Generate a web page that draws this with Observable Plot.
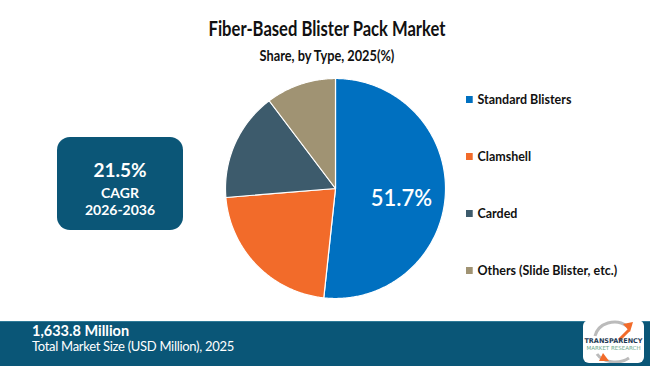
<!DOCTYPE html>
<html><head><meta charset="utf-8">
<script src="https://cdn.jsdelivr.net/npm/d3@7"></script>
<script src="https://cdn.jsdelivr.net/npm/@observablehq/plot@0.6"></script>
<style>
html,body{margin:0;padding:0;background:#fff;}
#wrap{position:relative;width:650px;height:366px;overflow:hidden;font-family:Lato,"Open Sans",sans-serif;}
#chart{position:absolute;left:0;top:0;}
.title{position:absolute;left:0;width:654px;top:15px;text-align:center;font-weight:700;font-size:21px;color:#111;transform:scaleX(0.79);}
.sub{position:absolute;left:0;width:654px;top:47px;text-align:center;font-weight:700;font-size:14.5px;color:#111;transform:scaleX(0.88);}
.legend{position:absolute;left:466px;top:0;}
.li{position:absolute;white-space:nowrap;font-weight:700;font-size:13px;color:#111;transform-origin:0 50%;transform:scaleX(0.96);}
.li span.sw{display:inline-block;width:7px;height:7px;margin-right:5px;vertical-align:1px;}
.cagr{position:absolute;left:57px;top:137px;width:126px;height:93px;background:#0b5677;border-radius:13px;color:#fff;text-align:center;font-family:Lato,sans-serif;}
.banner{position:absolute;left:0;top:321px;width:650px;height:45px;background:#0a5677;border-top:1px solid #2f7a98;}
.b1{position:absolute;left:32px;top:0px;color:#fff;font-weight:700;font-size:14.5px;font-family:Lato,sans-serif;}
.b2{position:absolute;left:32px;top:16px;color:#fff;font-size:13px;font-family:Lato,sans-serif;font-weight:400;letter-spacing:-0.3px;}
.logo{position:absolute;left:583px;top:320px;width:61px;height:43px;background:#fff;border-radius:6px;}
</style></head>
<body><div id="wrap">
<div id="chart"></div>
<div class="title">Fiber-Based Blister Pack Market</div>
<div class="sub">Share, by Type, 2025(%)</div>
<div class="legend" id="legend"></div>
<div class="cagr"><div style="position:absolute;top:21px;width:100%;font-size:19px;font-weight:700;">21.5%</div>
<div style="position:absolute;top:47px;width:100%;font-size:14px;font-weight:700;">CAGR</div>
<div style="position:absolute;top:64px;width:100%;font-size:14px;font-weight:700;">2026-2036</div></div>
<div class="banner"><div class="b1">1,633.8 Million</div><div class="b2">Total Market Size (USD Million), 2025</div></div>
<div class="logo">
<svg width="61" height="43">
<path d="M12 16 A20 18 0 0 1 44 6" fill="none" stroke="#bbb" stroke-width="3"/>
<path d="M40 4 L50 2 L47 12 Z" fill="#f26b2a"/>
<path d="M46 10 L36 20" stroke="#f26b2a" stroke-width="3"/>
<text x="30.5" y="23" text-anchor="middle" font-size="6.5" font-weight="700" fill="#1f3b55" font-family="DejaVu Sans">TRANSPARENCY</text>
<text x="30.5" y="30" text-anchor="middle" font-size="5.5" fill="#6aa88a" font-family="DejaVu Sans">MARKET RESEARCH</text>
<path d="M14 34 A20 14 0 0 0 46 38" fill="none" stroke="#bbb" stroke-width="3"/>
<path d="M20 33 L26 41 L16 41 Z" fill="#f26b2a"/>
</svg></div>
</div>
<script>
const categories = ["Standard Blisters","Clamshell","Carded","Others (Slide Blister, etc.)"];
const shares = [51.7, 22.0, 16.0, 10.3];
const colors = ["#0070c0","#f26b2a","#3d5b6c","#a09373"];
const labels = ["51.7%","","",""];

const data = categories.map((c,i)=>({category:c, value:shares[i], label:labels[i]}));
const arcs = d3.pie().sort(null).value(d=>d.value)(data);
const poly = [];
arcs.forEach(a=>{
  const cat = a.data.category;
  poly.push({category:cat, x:0, y:0});
  const n = Math.max(2, Math.ceil((a.endAngle-a.startAngle)/0.01));
  for(let k=0;k<=n;k++){
    const t = a.startAngle + (a.endAngle-a.startAngle)*k/n;
    poly.push({category:cat, x:Math.sin(t), y:Math.cos(t)});
  }
  poly.push({category:cat, x:0, y:0});
});
const lbl = arcs.filter(a=>a.data.label).map(a=>{
  const m=(a.startAngle+a.endAngle)/2;
  return {x:Math.sin(m)*0.6, y:Math.cos(m)*0.6, label:a.data.label};
});
const R=110, cx=335, cy=188;
const chart = Plot.plot({
  width:650, height:366, margin:0,
  x:{domain:[-cx/R,(650-cx)/R], axis:null},
  y:{domain:[-(366-cy)/R, cy/R], axis:null},
  color:{domain:categories, range:colors},
  marks:[
    Plot.line(poly,{x:"x",y:"y",z:"category",fill:"category",stroke:"white",strokeWidth:1.2,curve:"linear"}),
    Plot.text(lbl,{x:"x",y:"y",text:"label",fill:"white",fontSize:22,fontWeight:600,fontFamily:"Lato",dx:0,dy:7})
  ]
});
document.getElementById("chart").appendChild(chart);

const lg = document.getElementById("legend");
const ys=[91,148,205,262];
categories.forEach((c,i)=>{
  const d=document.createElement("div");d.className="li";d.style.top=ys[i]+"px";
  d.innerHTML=`<span class="sw" style="background:${colors[i]}"></span>${c}`;
  lg.appendChild(d);
});
</script>
</body></html>
